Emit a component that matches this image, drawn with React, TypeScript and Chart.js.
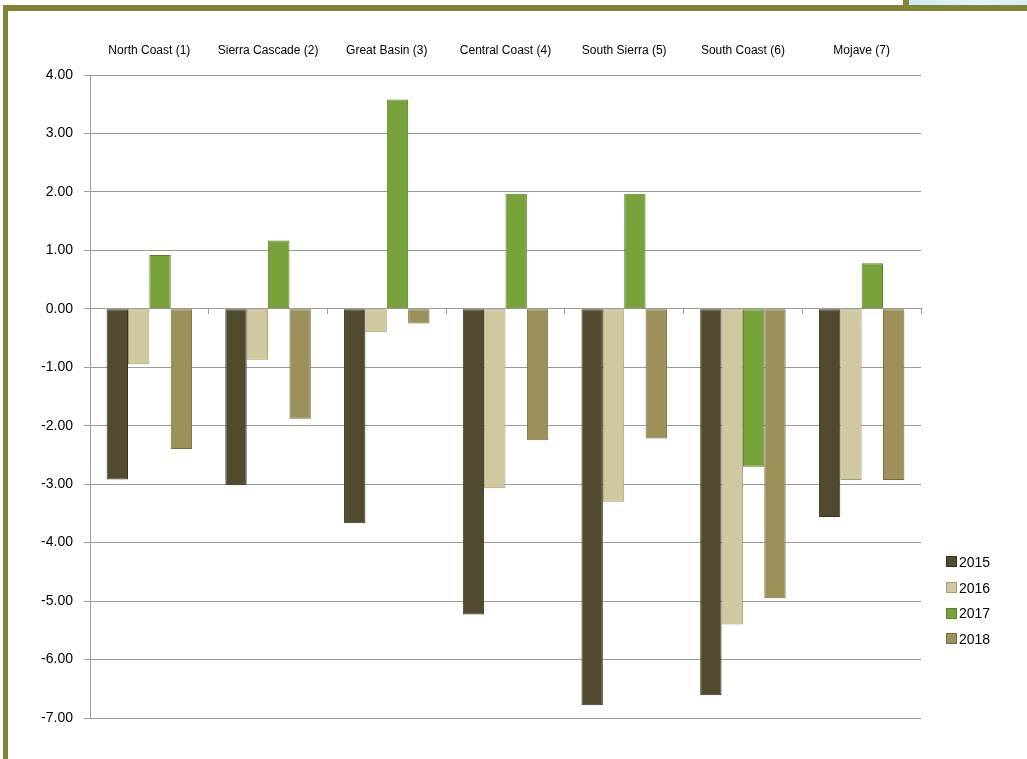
import React, { useEffect, useRef } from "react";
import { Chart, registerables } from "chart.js";

Chart.register(...registerables);

const categories = [
  "North Coast (1)",
  "Sierra Cascade (2)",
  "Great Basin (3)",
  "Central Coast (4)",
  "South Sierra (5)",
  "South Coast (6)",
  "Mojave (7)",
];

const seriesNames = ["2015", "2016", "2017", "2018"];

const values2015 = [-2.92, -3.02, -3.67, -5.23, -6.78, -6.61, -3.56];
const values2016 = [-0.95, -0.87, -0.40, -3.07, -3.30, -5.40, -2.93];
const values2017 = [0.92, 1.17, 3.58, 1.97, 1.97, -2.70, 0.78];
const values2018 = [-2.40, -1.88, -0.25, -2.25, -2.22, -4.95, -2.93];

const seriesValues = [values2015, values2016, values2017, values2018];
const fillColors = ["#514a2e", "#d0c89f", "#78a33b", "#9c9158"];
const edgeFill = ["#3f3a22", "#bcb48a", "#66902e", "#877d48"];
const edgeColors = ["#37321d", "#a39b74", "#5a7f28", "#756b3c"];

const yTickValues = [4, 3, 2, 1, 0, -1, -2, -3, -4, -5, -6, -7];

function barFill(i: number) {
  return (ctx: any) => {
    const el = ctx.element;
    const c = ctx.chart.ctx;
    if (!el || el.width === undefined || !isFinite(el.x)) return fillColors[i];
    const half = (el.width || 20) / 2;
    const g = c.createLinearGradient(el.x - half, 0, el.x + half, 0);
    g.addColorStop(0, edgeFill[i]);
    g.addColorStop(0.15, fillColors[i]);
    g.addColorStop(0.85, fillColors[i]);
    g.addColorStop(1, edgeFill[i]);
    return g;
  };
}

export default function App() {
  const canvasRef = useRef<HTMLCanvasElement | null>(null);

  useEffect(() => {
    if (!canvasRef.current) return;
    const chart = new Chart(canvasRef.current, {
      type: "bar",
      data: {
        labels: categories,
        datasets: seriesNames.map((name, i) => ({
          label: name,
          data: seriesValues[i],
          backgroundColor: barFill(i),
          borderColor: edgeColors[i],
          borderWidth: 1,
          borderSkipped: false,
          xAxisID: "x",
          yAxisID: "y",
          categoryPercentage: 0.72,
          barPercentage: 1.0,
        })),
      },
      options: {
        responsive: false,
        animation: false,
        layout: { padding: { left: 20, right: 106, top: 40, bottom: 41 } },
        plugins: {
          legend: { display: false },
          tooltip: { enabled: false },
        },
        scales: {
          x: {
            type: "category",
            position: "top",
            grid: { display: false, drawTicks: false },
            border: { display: false },
            ticks: {
              padding: 17,
              color: "#000000",
              maxRotation: 0,
              autoSkip: false,
              font: { family: "Liberation Sans", size: 12 },
            },
            afterFit: (scale: any) => {
              scale.height = 35;
            },
          },
          x2: {
            type: "category",
            labels: categories,
            position: { y: 0 } as any,
            offset: true,
            grid: {
              offset: true,
              drawOnChartArea: false,
              drawTicks: true,
              tickLength: 5,
              color: "#9a9a9a",
            },
            border: { display: true, color: "#9a9a9a", width: 1 },
            ticks: { display: false },
          },
          y: {
            min: -7,
            max: 4,
            afterBuildTicks: (scale: any) => {
              scale.ticks = yTickValues.map((v) => ({ value: v }));
            },
            grid: {
              color: "#9a9a9a",
              lineWidth: 1,
              drawTicks: true,
              tickLength: 6,
            },
            border: { display: true, color: "#9a9a9a", width: 1 },
            ticks: {
              padding: 11,
              color: "#000000",
              font: { family: "Liberation Sans", size: 14 },
              callback: (v: any) => Number(v).toFixed(2),
            },
            afterFit: (scale: any) => {
              scale.width = 70;
            },
          },
        },
      },
    });
    return () => chart.destroy();
  }, []);

  const olive = "#7f8532";

  return (
    <div
      style={{
        position: "fixed",
        left: 0,
        top: 0,
        width: 1027,
        height: 759,
        background: "#ffffff",
        overflow: "hidden",
      }}
    >
      <canvas
        ref={canvasRef}
        width={1027}
        height={759}
        style={{ position: "absolute", left: 0, top: 0, width: 1027, height: 759 }}
      />
      {/* frame */}
      <div style={{ position: "absolute", left: 909, top: 0, width: 118, height: 5, background: "linear-gradient(90deg,#cfe8f6,#e3f2fb 60%,#d6ecf8)" }} />
      <div style={{ position: "absolute", left: 903, top: 0, width: 6, height: 11, background: olive }} />
      <div style={{ position: "absolute", left: 3, top: 5, width: 1024, height: 6, background: olive }} />
      <div style={{ position: "absolute", left: 3, top: 5, width: 5, height: 754, background: olive }} />
      {/* legend */}
      <div
        style={{
          position: "absolute",
          left: 946,
          top: 549,
          fontFamily: "Liberation Sans",
          fontSize: 14,
          color: "#000",
        }}
      >
        {seriesNames.map((name, i) => (
          <div key={name} style={{ display: "flex", alignItems: "center", height: 25.7 }}>
            <span
              style={{
                display: "inline-block",
                width: 9,
                height: 9,
                background: fillColors[i],
                border: `1px solid ${edgeColors[i]}`,
                marginRight: 2,
              }}
            />
            <span>{name}</span>
          </div>
        ))}
      </div>
    </div>
  );
}
